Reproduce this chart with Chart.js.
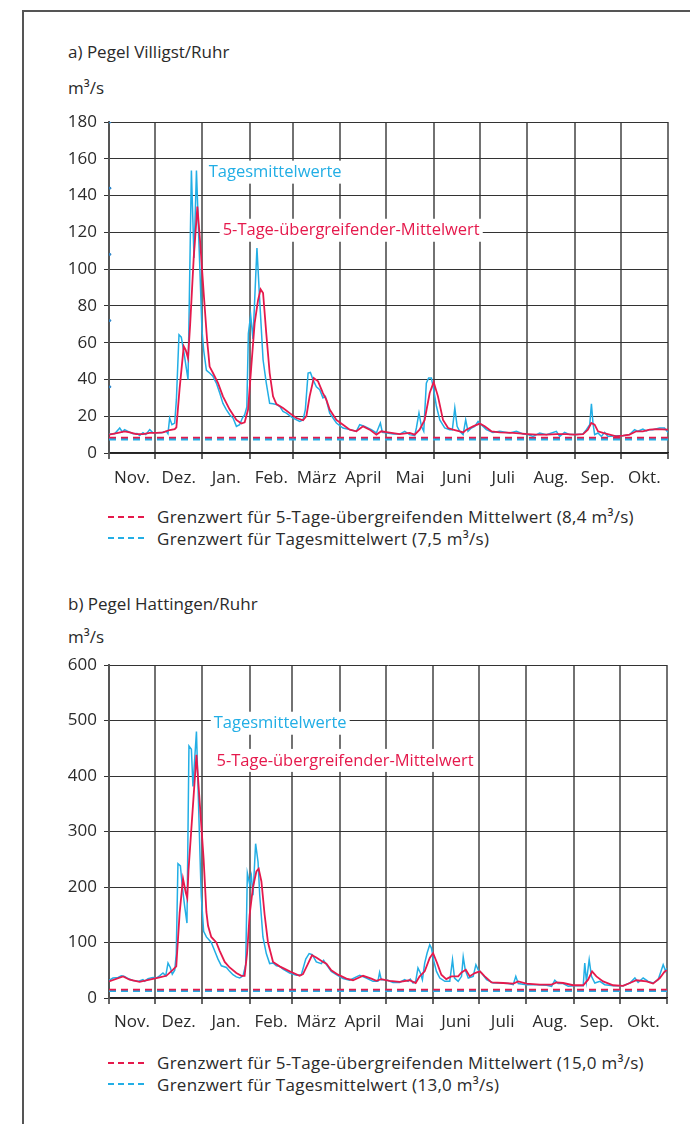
<!DOCTYPE html>
<html lang="de">
<head>
<meta charset="utf-8">
<title>Abfluss Ruhr – Villigst und Hattingen</title>
<script src="https://cdn.jsdelivr.net/npm/chart.js@4.4.1/dist/chart.umd.min.js"></script>
<style>
  html, body { margin: 0; padding: 0; background: #fff; }
  #page { position: relative; width: 690px; height: 1124px; overflow: hidden;
          font-family: "Open Sans", sans-serif; color: #2a2a2a; }
  .frame { position: absolute; left: 22px; top: 10px; right: -4px; bottom: -4px;
           border-left: 2px solid #555; border-top: 2px solid #555; }
  .title, .unit { position: absolute; left: 68px; font-size: 17px; line-height: 20px; white-space: nowrap; }
  canvas { position: absolute; left: 0; }
  .legend { position: absolute; left: 108px; font-size: 17px; letter-spacing: 0.28px; line-height: 21.5px; white-space: nowrap; }
  .legend div { display: flex; align-items: center; }
  .dash { display: inline-block; width: 37px; height: 2px; margin-right: 12px; }
  .dash.red { background: repeating-linear-gradient(to right, #e5194c 0 6px, transparent 6px 10px); }
  .dash.cyan { background: repeating-linear-gradient(to right, #22aee5 0 6px, transparent 6px 10px); }
</style>
</head>
<body>
<div id="page">
  <div class="frame"></div>

  <div class="title" style="top:42px">a) Pegel Villigst/Ruhr</div>
  <div class="unit" style="top:78px">m³/s</div>
  <canvas id="villigst" width="690" height="400" style="top:100px"></canvas>
  <div class="legend" style="top:506px">
    <div><span class="dash red"></span>Grenzwert für 5-Tage-übergreifenden Mittelwert (8,4 m³/s)</div>
    <div><span class="dash cyan"></span>Grenzwert für Tagesmittelwert (7,5 m³/s)</div>
  </div>

  <div class="title" style="top:594px">b) Pegel Hattingen/Ruhr</div>
  <div class="unit" style="top:627px">m³/s</div>
  <canvas id="hattingen" width="690" height="400" style="top:645px"></canvas>
  <div class="legend" style="top:1052px">
    <div><span class="dash red"></span>Grenzwert für 5-Tage-übergreifenden Mittelwert (15,0 m³/s)</div>
    <div><span class="dash cyan"></span>Grenzwert für Tagesmittelwert (13,0 m³/s)</div>
  </div>
</div>

<script>
// Abflussjahr Nov.–Okt., x in Tagen ab 1. November
const monthLabels = ["Nov.", "Dez.", "Jan.", "Feb.", "März", "April", "Mai", "Juni", "Juli", "Aug.", "Sep.", "Okt."];
const monthStarts = [0, 30, 61, 92, 120, 151, 181, 212, 242, 273, 304, 334, 365];

// Pegel Villigst: [Tag, m³/s]
const villigstDaily = [
  [0,10.3],[3.7,10.5],[7,13.6],[8.7,11.5],[10.2,12.7],[12.4,11.8],[15.7,10.5],[18.3,10.6],[20,9.5],[22.2,11],
  [24,10],[26.6,12.7],[28.7,11],[30.9,11],[34.2,11],[37.4,11.8],[38.5,10.5],[39.6,19],[41.1,15.4],[42.9,16.3],
  [44,29],[45.7,64.3],[47.2,63],[49,54.3],[50.5,46],[51.6,40],[53.8,153.6],[55.5,106],[57.1,153.6],[60.7,67],
  [61.8,56],[63.6,45],[65.7,43.5],[67.9,41.7],[70.1,38],[72.3,32.6],[74.4,27],[76.6,23.6],[78.8,20.8],[81,19],
  [83.2,14.5],[85.3,15.4],[87.1,19],[88.6,20.8],[90,25],[91,65],[92.5,75],[94,62],[96.6,111.4],[98.4,83],
  [100.6,50.7],[102.7,38],[104.9,27],[107.1,26.8],[109.3,26.3],[111.5,25.4],[113.6,22.6],[115.8,21.7],[120.2,19],[124.5,17.2],
  [126.7,18],[128.2,23.6],[130,43.5],[131.5,43.8],[133.2,39.9],[135.4,36],[137.6,34.4],[139.7,30],[141.3,30.8],[144.1,21.7],
  [148.5,16.3],[152.8,13.6],[157.2,12.7],[161.5,11.8],[163.7,15.4],[167,14.5],[171.3,12.7],[174.6,10.9],[177.2,16.3],[178.5,11.2],
  [181.8,10.9],[185.5,10.3],[189.8,10.3],[193.1,11.8],[196.3,10],[199.6,9.4],[200.7,13.6],[202.4,21.7],[204,14.5],[205.5,11.8],
  [207.2,38],[208.7,40.8],[210.5,40.8],[212,34.4],[213.8,25.4],[216,18],[219.2,13.6],[222.5,12.7],[224.2,12.7],[225.8,24.5],
  [227.3,14.5],[229,11.8],[231.2,10],[232.9,18],[234.4,11.8],[236.6,13.6],[238.8,14.5],[241,17.2],[243.1,15.4],[246.4,12.7],
  [250.7,11.2],[255.1,11.8],[261.6,10.9],[266,11.8],[270.3,10.3],[273.6,10],[276.9,9],[281.2,10.9],[285.6,10],[292.1,11.8],
  [294.3,9],[297.5,11.2],[300.8,10],[305.1,10],[309.5,10.3],[311.7,12.7],[313.9,15.4],[315,26.8],[316,16.3],[317.1,10],
  [319.3,10.9],[321.5,9],[323.6,11.2],[325.8,9],[331.2,9.4],[335.6,9.4],[339.9,10],[343.2,12.7],[345.4,11.8],[348.6,13],
  [350.8,12],[353,12.7],[355.1,12.7],[359.5,13.6],[362.7,13.6],[365,11.2]
];
const villigstMean5 = [
  [0,10],[5.9,11],[10.2,11.8],[13.5,11.2],[17.8,10.3],[22.2,10.3],[26.6,10.9],[30.9,10.9],[35.3,11.2],[39.6,12.5],
  [42.9,13],[44,14],[46.1,35],[48.8,58],[50.1,56],[51.6,51.6],[53,70],[55.3,106],[57.7,134],[59.5,115],
  [62,85],[64,62],[65.7,47],[67.9,43.5],[71.2,38],[74.4,30.8],[78.8,23.6],[83.2,18],[86.4,16],[88.6,16.7],
  [90.8,23.6],[92.9,47],[95.1,70.6],[97.3,83],[99,89],[100.6,87],[102.7,65],[104.9,43.5],[107.1,30.8],[109.3,26.6],
  [113.6,24.5],[118,21.7],[122.3,19],[126.7,17.8],[128.9,20],[131,30.8],[133.7,40.8],[136.5,39],[139.7,32.6],[141.9,29],
  [144.1,23.6],[148.5,18],[152.8,15.4],[157.2,12.7],[161.5,11.8],[165.9,14.5],[170.2,12.7],[174.6,10],[177.8,11.8],[182.2,11.2],
  [189.8,10.3],[196.3,10.9],[199.6,10],[202.8,12.7],[206.1,18],[209.4,32.6],[212,38.6],[214.8,30.8],[218.1,18],[221.4,13.6],
  [224.6,12.7],[229,11.8],[231.2,11.2],[233.4,12.7],[237.7,14.5],[242.1,16],[245.3,14.5],[249.7,11.8],[255.1,11.2],[263.8,10.9],
  [273.6,10.3],[279,10],[285.6,10],[292.1,10.3],[298.6,10.3],[304,10],[309.5,10.3],[312.7,12.7],[314.9,16.3],[317.1,15.4],
  [319.3,11.8],[322.5,10.9],[326.9,10],[331.2,9],[335.6,9.4],[339.9,10],[344.3,11.8],[348.6,11.8],[353,12.7],[357.4,13],
  [365,12.7]
];
const villigstLimitMean5 = 8.4;
const villigstLimitDaily = 7.5;
const villigstAxisMarks = [36, 72, 108, 144, 180];

// Pegel Hattingen: [Tag, m³/s]
const hattingenDaily = [
  [0,31.7],[2.6,36],[5.9,37],[8.1,40],[10.2,39],[12.4,35],[15.7,31.7],[19,30],[22.2,33],[23.3,30],
  [25.5,35],[28.8,37],[31,36],[33.1,40],[35.3,45],[37.1,40],[38.6,63],[40.1,55],[41.4,43],[43,50],
  [44,80],[45.1,242],[46.7,238],[48,200],[49.5,165],[51,135],[52.3,454],[53.9,448],[54.9,381],[57.2,480],
  [59.8,231],[60.4,183],[61.9,120],[63.7,110],[66.9,100],[69.1,85],[71.3,70],[73.5,58],[76.8,55],[78.9,48],
  [81.1,42],[83.3,38],[85.5,36],[87.7,40],[89.4,60],[90.5,225],[92,205],[93.1,220],[94.2,185],[95.9,278],
  [97.5,245],[98.6,185],[100.7,110],[102.9,80],[105.1,62],[107.3,63],[109.5,58],[111.6,57],[113.8,52],[118.2,45],
  [122.5,41],[125.8,42],[128.7,70],[130.9,80],[133,78],[135.6,65],[138.9,62],[140.4,68],[142.2,60],[145.4,48],
  [148.7,42],[153.1,35],[157.4,32],[161.8,38],[164,41],[168.3,36],[172.7,30],[175.9,30],[177,46],[178.1,33],
  [181.4,33],[185.8,28],[190.1,28],[193.4,33],[195.6,30],[197.1,34],[198.9,27],[200.6,30],[202.1,54],[203.7,45],
  [205,33],[206.5,63],[208.1,81],[209.8,96],[210.9,90],[212.5,66],[214.2,48],[216.4,36],[219.7,30],[222.9,30],
  [224.7,69],[226,36],[228.4,30],[230.6,39],[231.7,74],[233,51],[235,36],[238.2,39],[240,60],[241.5,51],
  [243.7,45],[247,33],[251.3,27],[255.7,27],[261.1,26],[264.4,24],[266.1,39],[267.7,26],[273.1,24],[279.7,24],
  [286.2,23],[289.5,21],[291.6,32],[293.8,26],[297.1,26],[300.4,21],[304.7,22],[310.2,22],[311.2,63],[312.3,30],
  [314.1,69],[315.6,39],[317.8,27],[321.1,30],[324.3,24],[329.8,22],[336.3,22],[340.7,27],[344,36],[346.1,28],
  [349.4,36],[352.7,30],[355.9,27],[359.2,33],[361.4,51],[362.5,60],[364.2,48],[365,54]
];
const hattingenMean5 = [
  [0,30],[9.2,39],[13.5,33],[20,29],[26.6,33],[33.1,37],[37.5,40],[41.9,51],[44,57],[46.2,153],
  [48.4,215],[50.2,190],[51.2,180],[52,230],[57.2,438],[61.9,250],[63.7,155],[64.8,130],[66.9,110],[70.2,100],
  [72.4,85],[75.7,65],[78.9,55],[83.3,45],[86.6,40],[88.7,40],[90.3,80],[92,150],[94.2,200],[96.4,228],
  [97.9,233],[99.7,210],[101.8,150],[104,100],[107.3,65],[111.6,57],[118.2,48],[124.7,40],[126.9,43],[130.2,62],
  [132.8,77],[135.6,73],[140,65],[142.2,62],[145.4,50],[149.8,42],[155.3,35],[159.6,32],[166.2,40],[171.6,35],
  [174.9,31],[178.1,34],[183.5,31],[190.1,29],[196.6,32],[200.6,27],[203.2,39],[206.5,48],[209.8,72],[212,81],
  [214.6,63],[217.4,42],[220.6,34],[223.9,39],[228.4,39],[230.6,46],[233.4,51],[236,39],[239.3,45],[242.6,48],
  [245.8,39],[250.2,28],[257.8,27],[264.4,26],[267.7,30],[273.1,26],[281.8,24],[289.5,24],[292.7,28],[297.1,27],
  [303.6,23],[310.2,23],[313.4,33],[316,48],[318.8,39],[323.2,30],[329.8,23],[336.3,22],[340.7,27],[345,32],
  [351.6,30],[355.9,26],[360.3,36],[363.5,48],[365,50]
];
const hattingenLimitMean5 = 15.0;
const hattingenLimitDaily = 13.0;

const RED = "#e5194c";
const CYAN = "#22aee5";
const TEXT = "#2a2a2a";
const TICK_FONT = { family: "'Open Sans', sans-serif", size: 17 };

const monthMids = monthLabels.map((_, i) => (monthStarts[i] + monthStarts[i + 1]) / 2);
const toXY = pts => pts.map(([x, y]) => ({ x, y }));

// Beschriftung der Ganglinien direkt im Diagramm, mit weißem Hintergrund über dem Gitter
const seriesLabels = {
  id: "seriesLabels",
  beforeDatasetsDraw(chart, args, opts) {
    const { ctx, scales: { x, y } } = chart;
    ctx.save();
    ctx.font = "16.5px 'Open Sans', sans-serif";
    ctx.textBaseline = "middle";
    (opts.items || []).forEach(item => {
      const px = x.getPixelForValue(item.day);
      const py = y.getPixelForValue(item.value);
      const w = ctx.measureText(item.text).width;
      ctx.fillStyle = "#fff";
      ctx.fillRect(px - 3, py - 11, w + 6, 23);
      ctx.fillStyle = item.color;
      ctx.fillText(item.text, px, py + 1);
    });
    ctx.restore();
  }
};

const limitLine = (value, color, width) => ({
  data: [{ x: 0, y: value }, { x: 365, y: value }],
  borderColor: color,
  borderWidth: width,
  borderDash: [7, 5],
  pointRadius: 0
});

const renderChart = (id, { daily, mean5, limitMean5, limitDaily, yMax, yStep, labels, marks, padTop, padRight, monthPad }) => {
  const datasets = [
    { data: toXY(mean5), borderColor: RED, borderWidth: 1.8, pointRadius: 0 },
    { data: toXY(daily), borderColor: CYAN, borderWidth: 1.5, pointRadius: 0 },
    limitLine(limitMean5, RED, 1.8),
    limitLine(limitDaily, CYAN, 2.4)
  ];
  if (marks) {
    datasets.push({
      data: marks.map(v => ({ x: 0.6, y: v })),
      showLine: false, pointRadius: 1.4, pointBackgroundColor: "#2f86c9", pointBorderWidth: 0
    });
  }

  return new Chart(document.getElementById(id), {
    type: "line",
    data: { datasets },
    plugins: [seriesLabels],
    options: {
      responsive: false,
      animation: false,
      events: [],
      layout: { padding: { top: padTop, right: padRight, left: 0, bottom: 0 } },
      elements: { line: { tension: 0 } },
      plugins: {
        legend: { display: false },
        tooltip: { enabled: false },
        seriesLabels: { items: labels }
      },
      scales: {
        x: {
          type: "linear", min: 0, max: 365,
          afterBuildTicks: s => { s.ticks = monthStarts.map(v => ({ value: v })); },
          ticks: { display: false },
          grid: { color: "#727272", lineWidth: 2, tickLength: 6, tickColor: "#333", tickWidth: 1.5 },
          border: { color: "#222", width: 1.5 },
          afterFit: s => { s.height = 6; }
        },
        months: {
          type: "linear", position: "bottom", min: 0, max: 365,
          afterBuildTicks: s => { s.ticks = monthMids.map(v => ({ value: v })); },
          ticks: { callback: (v, i) => monthLabels[i], color: TEXT, font: TICK_FONT, padding: monthPad, autoSkip: false, maxRotation: 0 },
          grid: { display: false, drawTicks: false },
          border: { display: false },
          afterFit: s => { s.height = 41; }
        },
        y: {
          min: 0, max: yMax,
          ticks: { stepSize: yStep, color: TEXT, font: TICK_FONT, padding: 7 },
          grid: { color: "#333", lineWidth: 1, tickLength: 5 },
          border: { color: "#555", width: 2 },
          afterFit: s => { s.width = 109; }
        }
      }
    }
  });
};

renderChart("villigst", {
  daily: villigstDaily, mean5: villigstMean5,
  limitMean5: villigstLimitMean5, limitDaily: villigstLimitDaily,
  yMax: 180, yStep: 20, marks: villigstAxisMarks, padTop: 22, padRight: 22, monthPad: 9,
  labels: [
    { text: "Tagesmittelwerte", color: CYAN, day: 65.1, value: 153 },
    { text: "5-Tage-übergreifender-Mittelwert", color: RED, day: 74.2, value: 121.4 }
  ]
});

renderChart("hattingen", {
  daily: hattingenDaily, mean5: hattingenMean5,
  limitMean5: hattingenLimitMean5, limitDaily: hattingenLimitDaily,
  yMax: 600, yStep: 100, padTop: 20, padRight: 23, monthPad: 8,
  labels: [
    { text: "Tagesmittelwerte", color: CYAN, day: 68.5, value: 496 },
    { text: "5-Tage-übergreifender-Mittelwert", color: RED, day: 70.3, value: 429 }
  ]
});
</script>
</body>
</html>
